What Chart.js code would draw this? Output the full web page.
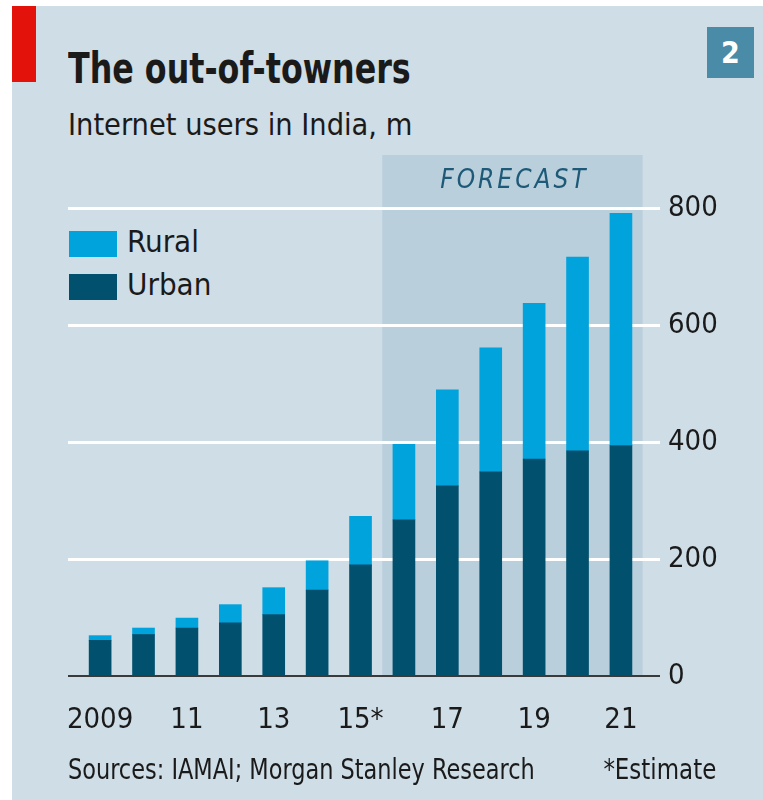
<!DOCTYPE html>
<html>
<head>
<meta charset="utf-8">
<script src="https://cdn.jsdelivr.net/npm/chart.js@4"></script>
<style>
  body { margin: 0; background: #fff; font-family: "Liberation Sans Narrow", "DejaVu Sans Condensed", "Arial Narrow", sans-serif; color: #1a1a1a; }
  #wrap { position: relative; width: 763px; height: 800px; overflow: hidden; }
  #panel { position: absolute; left: 12px; top: 6px; width: 751px; height: 794px; background: #cedde6; }
  #redbar { position: absolute; left: 12px; top: 6px; width: 24px; height: 76px; background: #e3120b; }
  #badge { position: absolute; left: 707px; top: 27px; width: 47px; height: 51px; background: #4a8ba7; color: #fff;
           font-weight: bold; font-size: 30px; line-height: 51px; text-align: center; }
  #title { position: absolute; left: 68px; top: 44px; font-size: 42px; font-weight: bold; white-space: nowrap;
           transform: scaleX(0.84); transform-origin: left top; }
  #subtitle { position: absolute; left: 68px; top: 106px; font-size: 31px; white-space: nowrap;
              transform: scaleX(0.98); transform-origin: left top; }
  #sources { position: absolute; left: 68px; top: 752px; font-size: 29px; white-space: nowrap;
             transform: scaleX(0.86); transform-origin: left top; }
  #note { position: absolute; right: 47px; top: 752px; font-size: 29px; white-space: nowrap;
          transform: scaleX(0.88); transform-origin: right top; }
  .leg { position: absolute; left: 69px; font-size: 31px; white-space: nowrap; }
  .leg span { position: absolute; left: 0; width: 48px; height: 26px; }
  .leg b { position: absolute; left: 58px; top: -8px; font-weight: normal; }
  canvas { position: absolute; left: 0; top: 0; }
</style>
</head>
<body>
<div id="wrap">
  <div id="panel"></div>
  <div id="redbar"></div>
  <div id="badge">2</div>
  <div id="title">The out-of-towners</div>
  <div id="subtitle">Internet users in India, m</div>
  <div class="leg" style="top:231px"><span style="background:#00a3dc"></span><b>Rural</b></div>
  <div class="leg" style="top:274px"><span style="background:#00506e"></span><b>Urban</b></div>
  <canvas id="chart" width="763" height="800"></canvas>
  <div id="sources">Sources: IAMAI; Morgan Stanley Research</div>
  <div id="note">*Estimate</div>
</div>
<script>
var years = [2009, 2010, 2011, 2012, 2013, 2014, 2015, 2016, 2017, 2018, 2019, 2020, 2021];
var urban = [61, 71, 82, 91, 105, 147, 190, 267, 325, 349, 371, 385, 394];
var rural = [8, 11, 17, 31, 46, 50, 83, 129, 164, 212, 266, 331, 397];
var tickYears = [2009, 2011, 2013, 2015, 2017, 2019, 2021];
var tickLabels = ['2009', '11', '13', '15*', '17', '19', '21'];
var yTicks = [0, 200, 400, 600, 800];
var forecastFrom = 2016;

var fam = '"Liberation Sans Narrow", "DejaVu Sans Condensed", "Arial Narrow", sans-serif';

// shaded forecast block, drawn under the gridlines
var forecastShade = {
  id: 'forecastShade',
  beforeDraw: function(chart) {
    var c = chart.ctx, x = chart.scales.x, area = chart.chartArea;
    var left = x.getPixelForValue(forecastFrom - 0.5);
    var right = x.getPixelForValue(years[years.length - 1] + 0.5);
    var top = area.top - 53;
    c.save();
    c.fillStyle = '#b9cfdc';
    c.fillRect(left, top, right - left, area.bottom - top);
    c.fillStyle = '#1e5a78';
    c.font = 'italic 26px ' + fam;
    c.textAlign = 'center';
    c.textBaseline = 'middle';
    c.letterSpacing = '3px';
    c.fillText('FORECAST', (left + right) / 2 + 2, top + 26);
    c.restore();
  }
};

var toPoints = function(arr) {
  return arr.map(function(v, i) { return { x: years[i], y: v }; });
};

new Chart(document.getElementById('chart'), {
  type: 'bar',
  data: {
    datasets: [
      { label: 'Urban', data: toPoints(urban), backgroundColor: '#00506e', barThickness: 22 },
      { label: 'Rural', data: toPoints(rural), backgroundColor: '#00a3dc', barThickness: 22 }
    ]
  },
  options: {
    responsive: false,
    animation: false,
    layout: { padding: { left: 68, top: 208, right: 0, bottom: 0 } },
    plugins: { legend: { display: false }, tooltip: { enabled: false } },
    scales: {
      x: {
        type: 'linear',
        stacked: true,
        offset: false,
        min: 2009 - 0.74,
        max: 2021 + 0.9,
        afterBuildTicks: function(s) { s.ticks = tickYears.map(function(v) { return { value: v }; }); },
        afterFit: function(s) { s.height = 124; },
        grid: { display: false },
        border: { display: false },
        ticks: {
          padding: 19,
          color: '#1a1a1a',
          font: { family: fam, size: 29 },
          maxRotation: 0,
          callback: function(v) { return tickLabels[tickYears.indexOf(v)]; }
        }
      },
      y: {
        position: 'right',
        stacked: true,
        min: 0,
        max: 800,
        afterBuildTicks: function(s) { s.ticks = yTicks.map(function(v) { return { value: v }; }); },
        afterFit: function(s) { s.width = 103; },
        border: { display: false },
        grid: {
          drawTicks: false,
          color: function(ctx) { return ctx.tick.value === 0 ? '#3a3a3a' : '#ffffff'; },
          lineWidth: function(ctx) { return ctx.tick.value === 0 ? 2 : 3; }
        },
        ticks: {
          padding: 8,
          color: '#1a1a1a',
          font: { family: fam, size: 29 }
        }
      }
    }
  },
  plugins: [forecastShade]
});
</script>
</body>
</html>
